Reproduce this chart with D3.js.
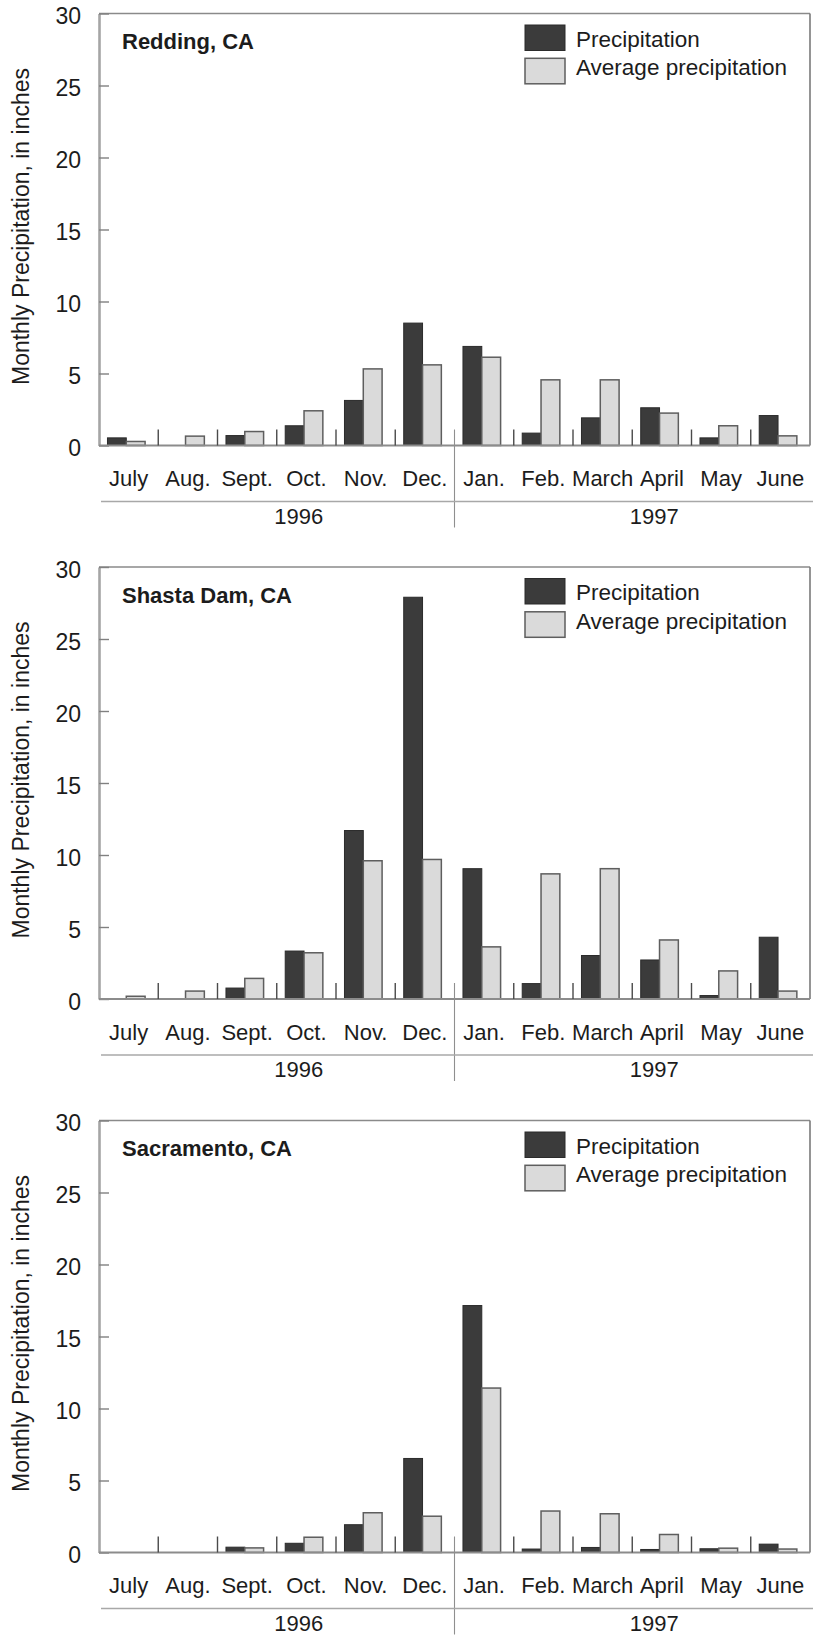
<!DOCTYPE html>
<html>
<head>
<meta charset="utf-8">
<script src="https://cdn.jsdelivr.net/npm/d3@7"></script>
<style>
  html, body { margin: 0; padding: 0; background: #fff; }
  svg { display: block; }
  text { font-family: "Liberation Sans", Arial, Helvetica, sans-serif; fill: #1c1c1c; }
</style>
</head>
<body>
<svg id="chart" width="825" height="1635"></svg>
<script>
// Monthly precipitation, water year July 1996 - June 1997
const months = ["July", "Aug.", "Sept.", "Oct.", "Nov.", "Dec.", "Jan.", "Feb.", "March", "April", "May", "June"];
const years = ["1996", "1997"];
const yTicks = [0, 5, 10, 15, 20, 25, 30];
const seriesNames = ["Precipitation", "Average precipitation"];
const stations = ["Redding, CA", "Shasta Dam, CA", "Sacramento, CA"];

const reddingPrecip     = [0.53, 0, 0.69, 1.37, 3.13, 8.5, 6.88, 0.86, 1.92, 2.62, 0.53, 2.08];
const reddingAverage    = [0.28, 0.65, 0.97, 2.41, 5.32, 5.6, 6.13, 4.56, 4.56, 2.25, 1.37, 0.67];
const shastaPrecip      = [0, 0, 0.76, 3.33, 11.7, 27.9, 9.05, 1.07, 3.02, 2.71, 0.24, 4.29];
const shastaAverage     = [0.19, 0.55, 1.43, 3.21, 9.6, 9.69, 3.62, 8.69, 9.05, 4.1, 1.95, 0.55];
const sacramentoPrecip  = [0, 0, 0.37, 0.64, 1.93, 6.53, 17.15, 0.24, 0.35, 0.21, 0.26, 0.58];
const sacramentoAverage = [0, 0, 0.32, 1.06, 2.76, 2.52, 11.42, 2.88, 2.69, 1.25, 0.3, 0.24];

const panels = [
  { name: stations[0], series: [reddingPrecip, reddingAverage] },
  { name: stations[1], series: [shastaPrecip, shastaAverage] },
  { name: stations[2], series: [sacramentoPrecip, sacramentoAverage] }
];

// Layout
const left = 99, right = 810;
const plotH = 432;
const firstTop = 13.5, panelStep = 553.5;
const fontSize = 22;

const fills = ["#3b3b3b", "#dadada"];
const strokes = ["#2b2b2b", "#5e5e5e"];

const x = d3.scaleBand().domain(months).range([left, right]).padding(0);
const xs = d3.scaleBand().domain(d3.range(seriesNames.length))
  .range([x.bandwidth() * 0.143, x.bandwidth() * 0.778]).padding(0);
const y = d3.scaleLinear().domain([0, 30]).range([plotH, 0]);

const svg = d3.select("#chart");

panels.forEach((p, pi) => {
  const g = svg.append("g").attr("transform", `translate(0,${firstTop + pi * panelStep})`);

  // Bars
  const groups = g.selectAll("g.month").data(months).join("g")
    .attr("class", "month")
    .attr("transform", m => `translate(${x(m)},0)`);
  groups.selectAll("rect")
    .data((m, mi) => p.series.map((s, si) => ({ si, v: s[mi] })).filter(d => d.v > 0))
    .join("rect")
    .attr("x", d => xs(d.si))
    .attr("width", xs.bandwidth())
    .attr("y", d => y(d.v))
    .attr("height", d => y(0) - y(d.v))
    .attr("fill", d => fills[d.si])
    .attr("stroke", d => strokes[d.si])
    .attr("stroke-width", d => d.si === 0 ? 1 : 1.5);

  // Frame: top and right borders
  g.append("line").attr("x1", left).attr("x2", right).attr("y1", y(30)).attr("y2", y(30))
    .attr("stroke", "#8a8a8a").attr("stroke-width", 1.6);
  g.append("line").attr("x1", right).attr("x2", right).attr("y1", y(30)).attr("y2", y(0))
    .attr("stroke", "#7a7a7a").attr("stroke-width", 1.6);

  // Y axis with ticks pointing inward
  const yAxis = g.append("g").attr("transform", `translate(${left},0)`)
    .call(d3.axisLeft(y).tickValues(yTicks).tickSizeInner(-10).tickSizeOuter(0).tickPadding(18));
  yAxis.select(".domain").attr("stroke", "#a5a5a5").attr("stroke-width", 2.6);
  yAxis.selectAll(".tick line").attr("stroke", "#808080").attr("stroke-width", 1.4);
  yAxis.selectAll(".tick text").attr("font-size", 23).attr("fill", "#1c1c1c")
    .attr("font-family", "Liberation Sans, Arial, sans-serif").attr("dy", "0.45em");

  // Baseline
  g.append("line").attr("x1", left).attr("x2", right).attr("y1", y(0)).attr("y2", y(0))
    .attr("stroke", "#8c8c8c").attr("stroke-width", 2);

  // Month separators
  g.selectAll("line.sep").data(months.slice(1)).join("line")
    .attr("class", "sep")
    .attr("x1", m => x(m)).attr("x2", m => x(m))
    .attr("y1", y(0) - 16).attr("y2", m => m === "Jan." ? y(0) + 82 : y(0))
    .attr("stroke", m => m === "Jan." ? "#8f8f8f" : "#4a4a4a")
    .attr("stroke-width", m => m === "Jan." ? 1.1 : 1.4);

  // Month labels
  const xAxis = g.append("g").attr("transform", `translate(0,${y(0)})`)
    .call(d3.axisBottom(x).tickSizeInner(0).tickSizeOuter(0).tickPadding(25));
  xAxis.select(".domain").remove();
  xAxis.selectAll(".tick text").attr("font-size", fontSize).attr("fill", "#1c1c1c")
    .attr("font-family", "Liberation Sans, Arial, sans-serif");

  // Year bracket line and labels
  g.append("line").attr("x1", left + 2).attr("x2", right + 3)
    .attr("y1", y(0) + 56).attr("y2", y(0) + 56)
    .attr("stroke", "#a8a8a8").attr("stroke-width", 1.6);
  const half = months.length / 2;
  g.selectAll("text.year").data(years).join("text")
    .attr("class", "year")
    .attr("x", (yr, i) => (x(months[i * half]) + x(months[i * half + half - 1]) + x.bandwidth()) / 2 + 22)
    .attr("y", y(0) + 78)
    .attr("text-anchor", "middle")
    .attr("font-size", fontSize)
    .text(yr => yr);

  // Y axis title
  g.append("text")
    .attr("transform", `translate(29,${y(15) - 3}) rotate(-90)`)
    .attr("text-anchor", "middle")
    .attr("font-size", 23)
    .text("Monthly Precipitation, in inches");

  // Station name
  g.append("text").attr("x", 122).attr("y", 35.5)
    .attr("font-size", fontSize).attr("font-weight", "bold")
    .text(p.name);

  // Legend
  const lg = g.append("g").attr("transform", "translate(525,11.5)");
  const li = lg.selectAll("g").data(seriesNames).join("g")
    .attr("transform", (d, i) => `translate(0,${i * 33.3})`);
  li.append("rect").attr("width", 40).attr("height", 25.5)
    .attr("fill", (d, i) => fills[i]).attr("stroke", (d, i) => strokes[i])
    .attr("stroke-width", (d, i) => i === 0 ? 1 : 1.5);
  li.append("text").attr("x", 51).attr("y", (d, i) => i === 0 ? 21.5 : 17)
    .attr("font-size", 22.5).text(d => d);
});
</script>
</body>
</html>
